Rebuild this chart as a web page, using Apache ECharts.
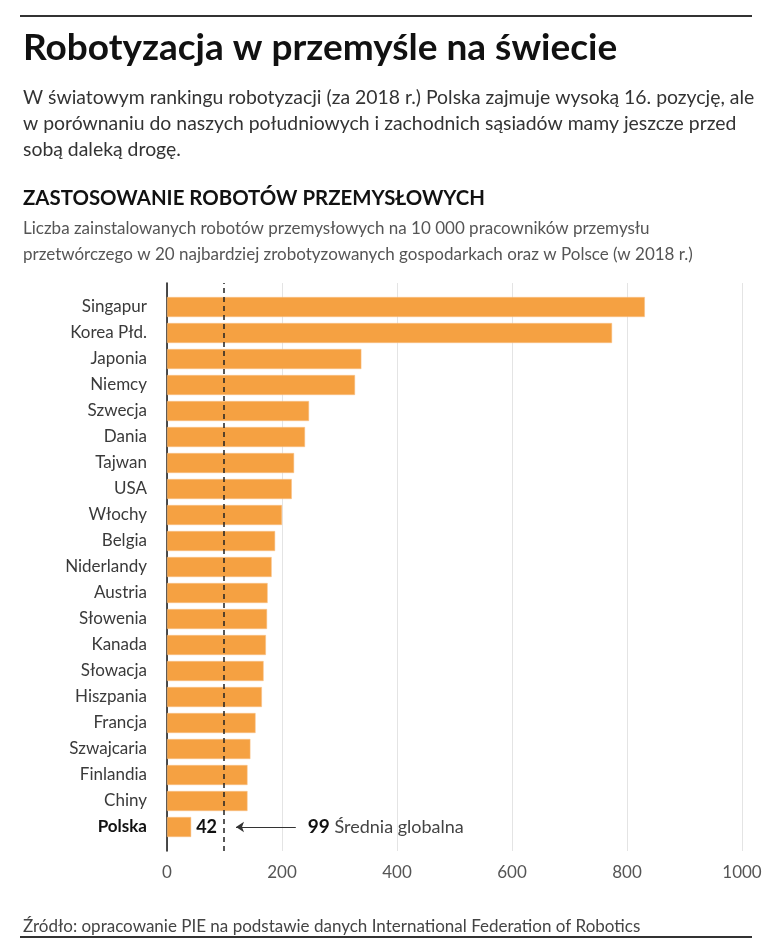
<!DOCTYPE html>
<html><head><meta charset="utf-8">
<script src="https://cdn.jsdelivr.net/npm/echarts@6/dist/echarts.min.js"></script>
<style>html,body{margin:0;padding:0;background:#fff}#c{width:768px;height:944px}</style>
</head><body><div id="c"></div>
<script>
var categories = ['Singapur','Korea Płd.','Japonia','Niemcy','Szwecja','Dania','Tajwan','USA','Włochy','Belgia','Niderlandy','Austria','Słowenia','Kanada','Słowacja','Hiszpania','Francja','Szwajcaria','Finlandia','Chiny','Polska'];
var values = [831,774,338,327,247,240,221,217,200,188,182,175,174,172,168,165,154,145,140,140,42];
var globalAverage = 99;
var highlight = 'Polska';
var xTicks = [0,200,400,600,800,1000];

var FONT = 'Lato';
var chart = echarts.init(document.getElementById('c'), null, {renderer:'canvas'});
var barData = values.map(function(v,i){
  if (categories[i] === highlight) {
    return {value:v, label:{show:true, position:'right', distance:5, formatter:String(v), fontFamily:FONT, fontWeight:'bold', fontSize:18, color:'#111'}};
  }
  return v;
});
chart.setOption({
  animation:false,
  textStyle:{fontFamily:FONT},
  title:[
    {text:'Robotyzacja w przemyśle na świecie', left:18, top:25, textStyle:{fontFamily:FONT, fontWeight:'bold', fontSize:37, color:'#111'}},
    {text:'W światowym rankingu robotyzacji (za 2018 r.) Polska zajmuje wysoką 16. pozycję, ale\nw porównaniu do naszych południowych i zachodnich sąsiadów mamy jeszcze przed\nsobą daleką drogę.', left:18, top:80, textStyle:{fontFamily:FONT, fontWeight:'normal', fontSize:19.4, lineHeight:26, color:'#333'}},
    {text:'ZASTOSOWANIE ROBOTÓW PRZEMYSŁOWYCH', left:18, top:183, textStyle:{fontFamily:FONT, fontWeight:'bold', fontSize:20.4, color:'#111'}},
    {text:'Liczba zainstalowanych robotów przemysłowych na 10 000 pracowników przemysłu\nprzetwórczego w 20 najbardziej zrobotyzowanych gospodarkach oraz w Polsce (w 2018 r.)', left:18, top:211, textStyle:{fontFamily:FONT, fontWeight:'normal', fontSize:17, lineHeight:26, color:'#555'}},
    {text:'Źródło: opracowanie PIE na podstawie danych International Federation of Robotics', left:18, top:913, textStyle:{fontFamily:FONT, fontWeight:'normal', fontSize:17, color:'#444'}}
  ],
  graphic:[
    {type:'line', shape:{x1:20,y1:16,x2:752,y2:16}, style:{stroke:'#333', lineWidth:2}},
    {type:'line', shape:{x1:20,y1:937,x2:752,y2:937}, style:{stroke:'#333', lineWidth:2}}
  ],
  grid:[
    {left:167, right:26, top:294, height:546},
    {left:167, right:26, top:283, height:568}
  ],
  xAxis:[
    {gridIndex:0, type:'value', min:0, max:1000, show:false},
    {gridIndex:1, type:'value', min:0, max:1000, interval:200,
     axisLine:{show:false}, axisTick:{show:false},
     splitLine:{show:true, lineStyle:{color:'#e4e4e4', width:1}},
     axisLabel:{color:'#555', fontSize:17, margin:13, fontFamily:FONT, formatter:function(v){return String(v);}}}
  ],
  yAxis:[
    {gridIndex:0, type:'category', data:categories, inverse:true,
     axisLine:{show:false}, axisTick:{show:false},
     axisLabel:{color:'#3a3a3a', fontSize:17, margin:20, fontFamily:FONT,
       formatter:function(v){ return v===highlight ? '{b|'+v+'}' : v; },
       rich:{b:{fontWeight:'bold', color:'#111', fontSize:17, fontFamily:FONT}}}},
    {gridIndex:1, type:'value', min:0, max:1, show:true,
     axisLine:{show:true, onZero:false, lineStyle:{color:'#111', width:1.5}},
     axisTick:{show:false}, axisLabel:{show:false}, splitLine:{show:false}}
  ],
  series:[
    {type:'bar', xAxisIndex:0, yAxisIndex:0, data:barData, barWidth:20,
     itemStyle:{color:'#F5A142', borderColor:'#F8C38A', borderWidth:0.5},
     markLine:{silent:true, symbol:['none','arrow'], symbolSize:8,
       lineStyle:{color:'#333', width:1, type:'solid'},
       label:{show:true, position:'start', distance:12, fontFamily:FONT, fontSize:18, color:'#444',
         formatter:'{n|'+globalAverage+'} Średnia globalna',
         rich:{n:{fontWeight:'bold', fontSize:19, color:'#111', fontFamily:FONT}}},
       data:[[{coord:[224, highlight]},{coord:[120, highlight]}]]}},
    {type:'line', xAxisIndex:1, yAxisIndex:1, data:[],
     markLine:{silent:true, symbol:'none', label:{show:false},
       lineStyle:{color:'#222', width:1.5, type:[5,4]},
       data:[{xAxis:globalAverage}]}}
  ]
});
</script></body></html>
